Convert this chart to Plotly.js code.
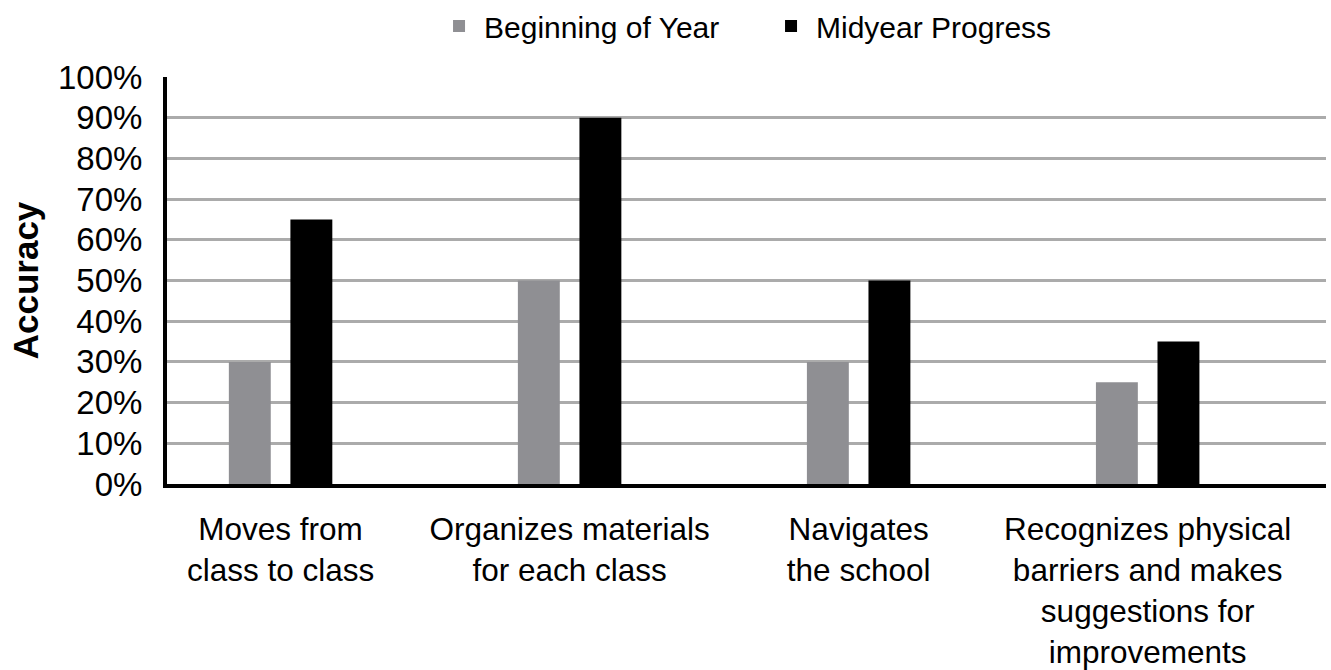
<!DOCTYPE html>
<html>
<head>
<meta charset="utf-8">
<script src="https://cdn.plot.ly/plotly-3.0.1.min.js"></script>
<style>html,body{margin:0;padding:0;background:#fff;}#chart{width:1331px;height:670px;}</style>
</head>
<body>
<div id="chart"></div>
<script>
const categories = [
  "Moves from<br>class to class",
  "Organizes materials<br>for each class",
  "Navigates<br>the school",
  "Recognizes physical<br>barriers and makes<br>suggestions for<br>improvements"
];
const seriesNames = ["Beginning of Year", "Midyear Progress"];
const beginningOfYear = [30, 50, 30, 25];
const midyearProgress = [65, 90, 50, 35];
const yTickValues = [0, 10, 20, 30, 40, 50, 60, 70, 80, 90, 100];
const yTickLabels = ["0%", "10%", "20%", "30%", "40%", "50%", "60%", "70%", "80%", "90%", "100%"];

const FONT = "Liberation Sans, Arial, sans-serif";

const traces = [
  {
    type: "bar", name: seriesNames[0], x: categories, y: beginningOfYear,
    marker: {color: "#8f8f93", line: {width: 0}},
    width: 0.145, offset: -0.179, hoverinfo: "y"
  },
  {
    type: "bar", name: seriesNames[1], x: categories, y: midyearProgress,
    marker: {color: "#000000", line: {width: 0}},
    width: 0.145, offset: 0.034, hoverinfo: "y"
  }
];

const layout = {
  width: 1331, height: 670,
  margin: {l: 167, r: 5, t: 77, b: 186, pad: 0, autoexpand: false},
  paper_bgcolor: "#ffffff", plot_bgcolor: "#ffffff",
  barmode: "overlay",
  font: {family: FONT, color: "#000000", size: 30},
  showlegend: true,
  legend: {
    orientation: "h", x: 0.2304, xanchor: "left",
    yref: "container", y: 1.0, yanchor: "top",
    font: {family: FONT, size: 30, color: "#000"},
    itemwidth: 40, itemgap: 5,
    entrywidth: 277, entrywidthmode: "pixels",
    bgcolor: "rgba(0,0,0,0)", traceorder: "normal"
  },
  xaxis: {
    type: "category",
    range: [-0.393, 3.617],
    showgrid: false, zeroline: false,
    showline: true, linecolor: "#000000", linewidth: 4,
    ticks: "", tickfont: {family: FONT, size: 31.5, color: "#000"},
    ticklabelstandoff: 14,
    fixedrange: true
  },
  yaxis: {
    range: [0, 100],
    tickvals: yTickValues, ticktext: yTickLabels,
    showgrid: true, gridcolor: "#ababab", gridwidth: 3,
    zeroline: false,
    showline: true, linecolor: "#000000", linewidth: 4,
    ticks: "", tickfont: {family: FONT, size: 33, color: "#000"},
    ticklabelstandoff: 14,
    title: {text: "<b>Accuracy</b>", font: {family: FONT, size: 35, color: "#000"}, standoff: 10},
    fixedrange: true
  }
};

Plotly.newPlot("chart", traces, layout, {displayModeBar: false, staticPlot: true});
</script>
</body>
</html>
